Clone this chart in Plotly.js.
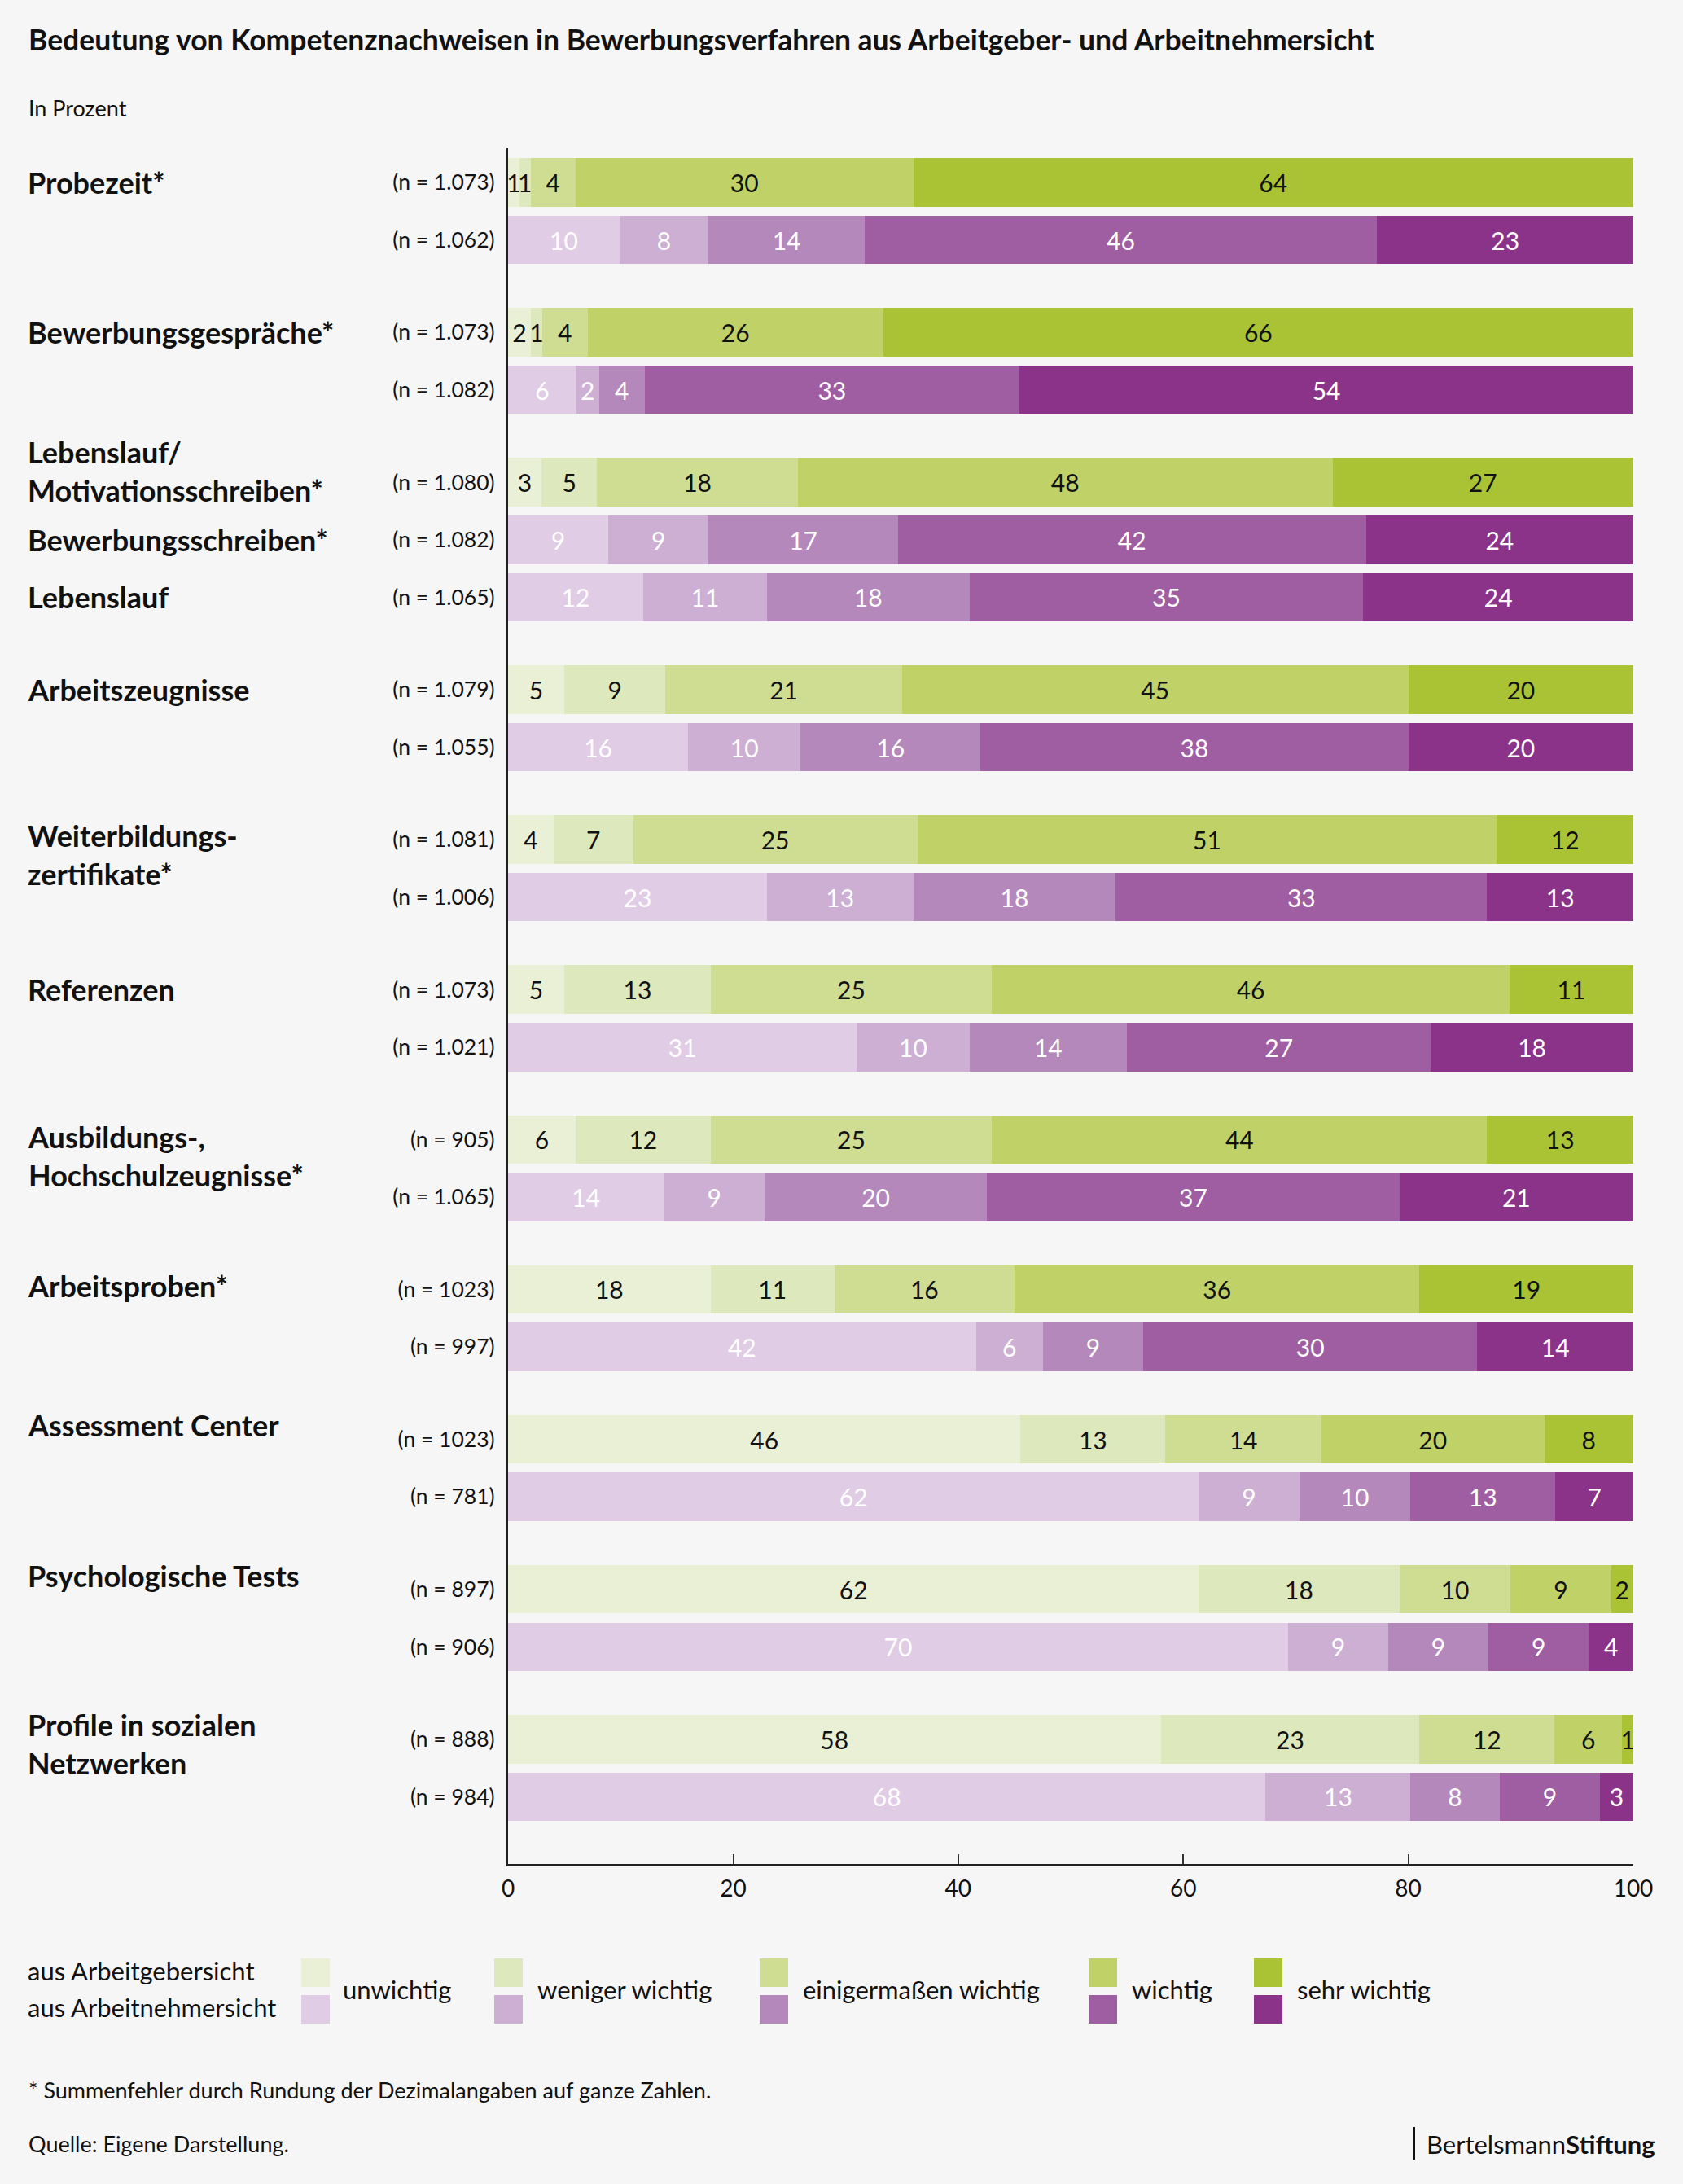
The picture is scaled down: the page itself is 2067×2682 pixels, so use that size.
<!DOCTYPE html>
<html>
<head>
<meta charset="utf-8">
<script src="https://cdn.plot.ly/plotly-3.0.1.min.js"></script>
<style>html,body{margin:0;padding:0;background:#f6f6f6;}#chart{width:2067px;height:2682px;}</style>
</head>
<body>
<div id="chart"></div>
<script>
// ---------- DATA ----------
const levels = ['unwichtig', 'weniger wichtig', 'einigermaßen wichtig', 'wichtig', 'sehr wichtig'];
const rowLabels = ['Probezeit*', '', 'Bewerbungsgespräche*', '', 'Lebenslauf/<br>Motivationsschreiben*',
  'Bewerbungsschreiben*', 'Lebenslauf', 'Arbeitszeugnisse', '', 'Weiterbildungs-<br>zertifikate*', '',
  'Referenzen', '', 'Ausbildungs-,<br>Hochschulzeugnisse*', '', 'Arbeitsproben*', '', 'Assessment Center', '',
  'Psychologische Tests', '', 'Profile in sozialen<br>Netzwerken', ''];
const rowGroup = [0,0,1,1,2,2,2,3,3,4,4,5,5,6,6,7,7,8,8,9,9,10,10];
const rowView = ['AG','AN','AG','AN','AG','AN','AN','AG','AN','AG','AN','AG','AN','AG','AN','AG','AN','AG','AN','AG','AN','AG','AN'];
const nLabels = ['(n = 1.073)','(n = 1.062)','(n = 1.073)','(n = 1.082)','(n = 1.080)','(n = 1.082)','(n = 1.065)',
  '(n = 1.079)','(n = 1.055)','(n = 1.081)','(n = 1.006)','(n = 1.073)','(n = 1.021)','(n = 905)','(n = 1.065)',
  '(n = 1023)','(n = 997)','(n = 1023)','(n = 781)','(n = 897)','(n = 906)','(n = 888)','(n = 984)'];
const unwichtig     = [ 1,10, 2, 6, 3, 9,12, 5,16, 4,23, 5,31, 6,14,18,42,46,62,62,70,58,68];
const wenigerWichtig= [ 1, 8, 1, 2, 5, 9,11, 9,10, 7,13,13,10,12, 9,11, 6,13, 9,18, 9,23,13];
const einigermassen = [ 4,14, 4, 4,18,17,18,21,16,25,18,25,14,25,20,16, 9,14,10,10, 9,12, 8];
const wichtig       = [30,46,26,33,48,42,35,45,38,51,33,46,27,44,37,36,30,20,13, 9, 9, 6, 9];
const sehrWichtig   = [64,23,66,54,27,24,24,20,20,12,13,11,18,13,21,19,14, 8, 7, 2, 4, 1, 3];
const xTicks = [0, 20, 40, 60, 80, 100];
const viewLabels = ['aus Arbeitgebersicht', 'aus Arbeitnehmersicht'];

// ---------- STYLE / LAYOUT ----------
const greens  = ['#eaf0d6', '#dee8bd', '#cfdd93', '#bfd167', '#a9c334'];
const purples = ['#e0cce5', '#cdafd4', '#b588bb', '#9f5da2', '#8b3389'];
const W = 2067, H = 2682;
const M = {l: 624, r: 61, t: 182, b: 393};
const PW = W - M.l - M.r, PH = H - M.t - M.b;
const px2x = p => (p - M.l) / PW;
const px2y = p => (H - M.b - p) / PH;
const GAP = 1.608;          // spacing between groups (in bar steps)
const BARW = 0.843;
const labelNudge = [0,0,0,0,14,0,0,0,0,-18,0,0,0,-20,0,4,0,18,0,17,0,-6,0];

const series = [unwichtig, wenigerWichtig, einigermassen, wichtig, sehrWichtig];
const nRows = rowView.length;
const ypos = [];
for (let i = 0; i < nRows; i++) {
  if (i === 0) ypos.push(0);
  else ypos.push(ypos[i-1] + (rowGroup[i] !== rowGroup[i-1] ? GAP : 1));
}
const sums = ypos.map((_, i) => series.reduce((s, a) => s + a[i], 0));

const traces = [];
['AG', 'AN'].forEach(view => {
  const idx = [];
  rowView.forEach((v, i) => { if (v === view) idx.push(i); });
  series.forEach((arr, k) => {
    traces.push({
      type: 'bar', orientation: 'h',
      name: levels[k] + ' (' + view + ')',
      y: idx.map(i => ypos[i]),
      x: idx.map(i => arr[i] / sums[i] * 100),
      text: idx.map(i => String(arr[i])),
      textposition: 'inside', insidetextanchor: 'middle', textangle: 0, constraintext: 'none',
      textfont: {family: 'Lato', size: 30, color: view === 'AG' ? '#111111' : '#ffffff'},
      marker: {color: view === 'AG' ? greens[k] : purples[k], line: {width: 0}},
      width: BARW, showlegend: false, hoverinfo: 'none'
    });
  });
});

const yTop = (M.t - 224) / 70.6, yBottom = (H - M.b - 224) / 70.6;

const annotations = [];
const shapes = [];
// title & subtitle
annotations.push({xref: 'paper', yref: 'paper', x: px2x(33), y: px2y(48), xanchor: 'left', yanchor: 'middle',
  text: 'Bedeutung von Kompetenznachweisen in Bewerbungsverfahren aus Arbeitgeber- und Arbeitnehmersicht',
  showarrow: false, font: {family: 'Lato', size: 35.5, weight: 700, color: '#111111'}});
annotations.push({xref: 'paper', yref: 'paper', x: px2x(33), y: px2y(133), xanchor: 'left', yanchor: 'middle',
  text: 'In Prozent', showarrow: false, font: {family: 'Lato', size: 27, color: '#111111'}});
// category labels
rowLabels.forEach((t, i) => {
  if (!t) return;
  annotations.push({xref: 'paper', yref: 'y', x: px2x(32), y: ypos[i], xanchor: 'left', yanchor: 'middle',
    yshift: labelNudge[i], align: 'left', text: t, showarrow: false,
    font: {family: 'Lato', size: 36, weight: 700, color: '#111111'}});
});
// legend
const legSwX = [370, 607, 933, 1337, 1540];
const legTxX = [419, 658, 984, 1388, 1591];
levels.forEach((lv, k) => {
  shapes.push({type: 'rect', xref: 'paper', yref: 'paper', x0: px2x(legSwX[k]), x1: px2x(legSwX[k] + 35),
    y0: px2y(2405), y1: px2y(2440), fillcolor: greens[k], line: {width: 0}});
  shapes.push({type: 'rect', xref: 'paper', yref: 'paper', x0: px2x(legSwX[k]), x1: px2x(legSwX[k] + 35),
    y0: px2y(2450), y1: px2y(2485), fillcolor: purples[k], line: {width: 0}});
  annotations.push({xref: 'paper', yref: 'paper', x: px2x(legTxX[k]), y: px2y(2443), xanchor: 'left', yanchor: 'middle',
    text: lv, showarrow: false, font: {family: 'Lato', size: 31, color: '#111111'}});
});
annotations.push({xref: 'paper', yref: 'paper', x: px2x(32), y: px2y(2420), xanchor: 'left', yanchor: 'middle',
  text: viewLabels[0], showarrow: false, font: {family: 'Lato', size: 31, color: '#111111'}});
annotations.push({xref: 'paper', yref: 'paper', x: px2x(32), y: px2y(2465), xanchor: 'left', yanchor: 'middle',
  text: viewLabels[1], showarrow: false, font: {family: 'Lato', size: 31, color: '#111111'}});
// footnotes
annotations.push({xref: 'paper', yref: 'paper', x: px2x(33), y: px2y(2566), xanchor: 'left', yanchor: 'middle',
  text: '* Summenfehler durch Rundung der Dezimalangaben auf ganze Zahlen.', showarrow: false,
  font: {family: 'Lato', size: 27, color: '#111111'}});
annotations.push({xref: 'paper', yref: 'paper', x: px2x(33), y: px2y(2632), xanchor: 'left', yanchor: 'middle',
  text: 'Quelle: Eigene Darstellung.', showarrow: false, font: {family: 'Lato', size: 27, color: '#111111'}});
// logo
shapes.push({type: 'line', xref: 'paper', yref: 'paper', x0: px2x(1737), x1: px2x(1737), y0: px2y(2612), y1: px2y(2652),
  line: {color: '#111111', width: 2}});
annotations.push({xref: 'paper', yref: 'paper', x: px2x(1750), y: px2y(2633), xanchor: 'left', yanchor: 'middle',
  text: 'Bertelsmann<b>Stiftung</b>', showarrow: false, font: {family: 'Lato', size: 31, color: '#111111'}});

const layout = {
  width: W, height: H,
  margin: M,
  paper_bgcolor: '#f6f6f6', plot_bgcolor: '#f6f6f6',
  font: {family: 'Lato', color: '#111111'},
  barmode: 'stack', bargap: 0,
  showlegend: false,
  xaxis: {range: [0, 100], tickvals: xTicks, ticktext: xTicks.map(String), showgrid: false, zeroline: false,
    showline: true, linecolor: '#222222', linewidth: 2.5, ticks: 'inside', ticklen: 12, tickwidth: 1.5,
    tickcolor: '#333333', tickfont: {family: 'Lato', size: 28, color: '#111111'}, ticklabelstandoff: 4,
    fixedrange: true},
  yaxis: {range: [yBottom, yTop], tickvals: ypos, ticktext: nLabels, showgrid: false, zeroline: false,
    showline: true, linecolor: '#222222', linewidth: 2, ticks: '', ticklabelstandoff: 9,
    tickfont: {family: 'Lato', size: 26.5, color: '#111111'}, fixedrange: true},
  annotations: annotations,
  shapes: shapes
};

Plotly.newPlot('chart', traces, layout, {displayModeBar: false, staticPlot: true});
</script>
</body>
</html>
